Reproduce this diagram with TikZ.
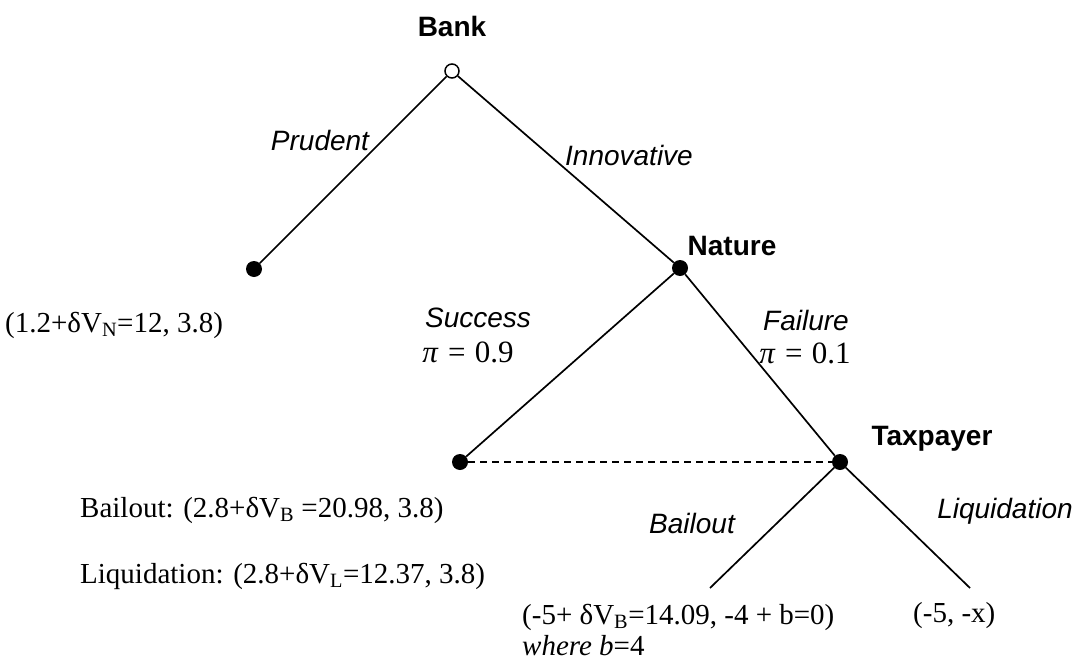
\documentclass[tikz,border=0pt]{standalone}
\usepackage{fontspec}
\setmainfont{Liberation Serif}
\setsansfont{Liberation Sans}
\usetikzlibrary{positioning}

\begin{document}
\begin{tikzpicture}[x=1pt, y=-1pt,
  every node/.style={inner sep=0pt},
  player/.style={font=\fontsize{28}{34}\selectfont\sffamily\bfseries, anchor=base},
  move/.style={font=\fontsize{28}{34}\selectfont\sffamily\itshape, anchor=base},
  payoff/.style={font=\fontsize{29}{34}\selectfont, anchor=base west},
  prob/.style={font=\fontsize{31}{36}\selectfont, anchor=base},
  rootdot/.style={circle, draw, line width=1.5pt, fill=white, minimum size=14pt},
  leafdot/.style={circle, fill, minimum size=16pt},
  branch/.style={line width=1.7pt}]
  \useasboundingbox (0,0) rectangle (1085,664);

  % Decision nodes
  \node[rootdot] (bank) at (452,71) {};
  \node[leafdot] (prudent) at (254,269) {};
  \node[leafdot] (nature) at (680,268) {};
  \node[leafdot] (success) at (460,462) {};
  \node[leafdot] (taxpayer) at (840,462) {};
  \coordinate (bailend) at (710,588);
  \coordinate (liqend) at (970,588);

  % Branches
  \draw[branch] (bank) -- (prudent);
  \draw[branch] (bank) -- (nature);
  \draw[branch] (nature) -- (success);
  \draw[branch] (nature) -- (taxpayer);
  \draw[branch] (taxpayer) -- (bailend);
  \draw[branch] (taxpayer) -- (liqend);
  \draw[line width=1.2pt, dash pattern=on 7pt off 5pt] (success) -- (taxpayer);

  % Players
  \node[player] (banklbl) at (452,36) {Bank};
  \node[player] (naturelbl) at (732,255) {Nature};
  \node[player] (taxlbl) at (932,445) {Taxpayer};

  % Moves
  \node[move] (prudentlbl) at (320,150) {Prudent};
  \node[move] (innovlbl) at (629,165) {Innovative};
  \node[move] (successlbl) at (478,327) {Success};
  \node[prob] (successpi) at (468,362) {\textit{π}\hspace{0.3em}=\hspace{0.3em}0.9};
  \node[move] (failurelbl) at (806,330) {Failure};
  \node[prob] (failurepi) at (805,363) {\textit{π}\hspace{0.3em}=\hspace{0.3em}0.1};
  \node[move] (bailoutlbl) at (692,533) {Bailout};
  \node[move] (liqlbl) at (1005,518) {Liquidation};

  % Payoffs
  \node[payoff] (prudentpay) at (5,332) {(1.2+δV\textsubscript{N}=12, 3.8)};
  \node[payoff] (successpay) at (80,517) {Bailout: (2.8+δV\textsubscript{B} =20.98, 3.8)};
  \node[payoff] (successliq) at (80,583) {Liquidation: (2.8+δV\textsubscript{L}=12.37, 3.8)};
  \node[payoff] (bailpay) at (522,624) {(-5+ δV\textsubscript{B}=14.09, -4 + b=0)};
  \node[payoff] (bailnote) at (522,655) {\textit{where b}=4};
  \node[payoff] (liqpay) at (913,622) {(-5, -x)};
\end{tikzpicture}
\end{document}
